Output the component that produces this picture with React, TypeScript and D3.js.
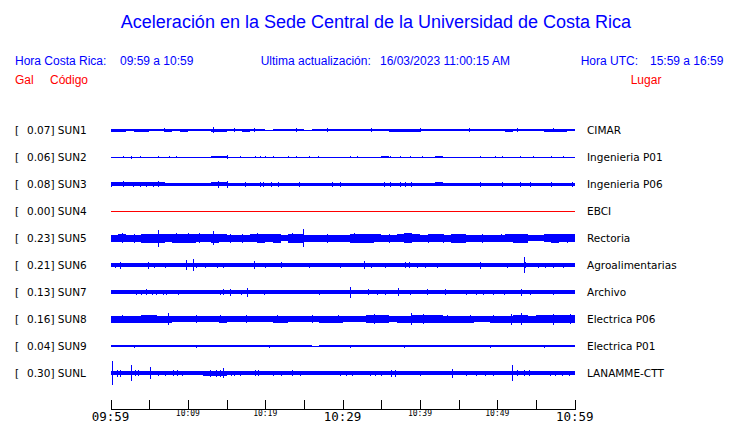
import React from 'react';
import * as d3 from 'd3';

const W = 740;
const H = 423;

// station metadata
const codes = ["SUN1", "SUN2", "SUN3", "SUN4", "SUN5", "SUN6", "SUN7", "SUN8", "SUN9", "SUNL"];
const peaks = ["0.07", "0.06", "0.08", "0.00", "0.23", "0.21", "0.13", "0.16", "0.04", "0.30"];
const places = ["CIMAR", "Ingenieria P01", "Ingenieria P06", "EBCI", "Rectoria", "Agroalimentarias", "Archivo", "Electrica P06", "Electrica P01", "LANAMME-CTT"];

// per-minute envelope (relative half-amplitude counts), 60 minutes from 09:59
const envSUN1 = [1.5,1.5,1.0,1.5,1.5,0.8,1.0,1.5,1.2,1.5,1.3,1.3,1.0,1.5,1.5,1.0,1.2,1.5,1.2,1.0,0.5,1.2,1.0,1.2,0.8,0.5,1.0,1.2,1.2,1.0,1.2,1.0,0.6,1.3,0.8,0.8,1.5,1.5,1.5,1.5,0.8,0.6,1.0,0.6,1.3,1.3,1.0,1.0,1.0,0.6,0.6,1.5,1.3,1.0,1.2,1.2,1.5,1.5,1.5,1.0];
const envSUN2 = [0.5,0.5,0.5,0.5,0.5,0.5,0.5,0.5,0.5,0.5,0.5,0.5,0.5,1.3,1.2,0.5,0.5,0.5,0.5,0.5,0.5,0.5,0.5,0.5,0.5,0.5,0.5,0.5,0.5,0.5,0.5,0.5,0.5,0.5,0.5,1.3,0.5,0.5,0.5,0.5,0.5,0.5,1.0,0.5,0.5,0.5,0.5,0.5,0.5,0.5,0.5,0.5,0.5,0.5,0.5,0.5,0.5,0.5,0.5,0.5];
const envSUN3 = [1.8,1.8,1.8,1.8,1.8,1.8,1.8,1.5,1.5,1.5,1.5,1.5,1.5,2.3,2.0,1.5,1.5,1.5,1.5,1.5,1.5,1.5,1.5,1.5,1.5,1.5,1.5,1.5,1.5,1.5,1.5,1.5,1.5,1.5,1.5,1.5,1.5,1.5,1.5,1.5,1.5,1.5,2.2,1.5,1.5,1.5,1.5,1.5,1.5,1.5,1.5,1.5,1.5,1.5,1.5,1.5,1.5,1.5,1.5,1.5];
const envSUN4 = [0,0,0,0,0,0,0,0,0,0,0,0,0,0,0,0,0,0,0,0,0,0,0,0,0,0,0,0,0,0,0,0,0,0,0,0,0,0,0,0,0,0,0,0,0,0,0,0,0,0,0,0,0,0,0,0,0,0,0,0];
const envSUN5 = [3.5,4.0,3.5,3.5,4.5,4.5,4.5,4.0,4.5,4.5,4.5,4.0,4.0,4.5,4.0,3.5,3.5,3.5,4.0,4.5,4.0,4.5,3.0,4.5,4.5,3.5,3.5,3.5,3.5,3.5,3.5,4.5,4.5,4.5,4.0,3.5,3.5,4.0,5.0,4.0,3.5,4.0,4.0,3.5,4.5,4.5,3.5,3.5,3.5,3.5,3.5,4.0,4.5,4.5,3.2,3.2,4.0,4.5,4.0,4.0];
const envSUN6 = [2.0,2.0,1.6,1.6,1.6,1.6,1.6,1.6,1.6,2.0,2.0,1.6,1.6,1.6,1.6,1.6,1.6,1.6,1.6,1.6,1.6,1.6,1.6,1.6,1.6,1.6,1.6,1.6,1.6,1.6,1.6,1.6,2.2,1.6,1.6,1.6,1.6,1.6,2.0,1.6,1.6,1.6,1.6,1.6,1.6,1.6,1.6,1.6,1.6,1.6,1.6,1.6,1.6,1.6,1.6,1.6,1.6,1.6,1.6,1.6];
const envSUN7 = [1.6,1.6,1.6,1.9,1.9,1.9,1.6,1.6,1.6,1.6,1.6,1.6,1.6,1.6,1.6,1.6,1.6,2.2,1.6,1.6,1.6,1.6,1.6,1.6,1.6,1.6,1.6,1.6,1.6,1.6,1.6,2.0,1.6,1.6,1.6,1.6,1.6,1.6,1.6,1.6,1.6,1.6,1.6,1.6,1.6,1.6,1.6,1.6,1.6,1.6,1.6,1.6,1.6,2.3,1.6,1.6,1.6,1.6,1.6,1.6];
const envSUN8 = [3.5,3.5,3.5,3.5,3.8,3.8,3.5,3.5,3.0,3.0,3.0,3.3,3.3,3.3,3.5,3.0,3.0,3.0,3.0,3.0,3.0,3.5,3.5,3.0,3.0,3.0,3.0,3.5,3.5,3.5,3.0,3.2,3.2,3.8,3.8,3.6,3.2,3.5,3.5,4.2,4.2,4.2,4.0,3.5,3.5,3.5,3.5,3.0,3.0,3.5,3.5,3.5,4.2,4.2,3.5,3.8,4.3,4.3,4.3,4.3];
const envSUN9 = [1.1,0.8,1.1,1.1,1.1,0.7,0.8,1.1,0.8,0.7,1.1,1.0,0.9,1.0,0.9,0.8,0.9,1.0,0.9,0.9,1.1,0.9,1.0,0.9,0.6,0.6,0.5,0.6,1.1,1.1,1.1,1.1,0.8,0.9,1.1,1.1,1.1,1.1,1.1,1.1,1.1,1.1,1.1,0.8,0.7,1.1,1.1,1.1,1.1,1.1,1.1,1.1,1.1,1.1,1.1,1.1,1.1,1.1,1.1,1.1];
const envSUNL = [2.3,2.3,2.3,1.8,1.8,2.0,2.0,2.0,2.0,2.0,1.6,1.6,2.5,2.5,2.5,1.8,1.8,1.8,1.8,1.8,1.8,1.8,1.8,1.8,1.6,1.6,1.6,1.6,1.6,1.6,1.6,1.6,1.6,2.0,2.0,2.0,1.6,1.6,1.6,1.6,1.6,1.6,1.6,1.6,1.6,1.6,1.6,1.6,1.6,1.6,1.6,2.2,2.2,1.6,1.6,1.9,1.9,1.9,1.9,1.6];

// spikes: [minute, half-amplitude]
const spkSUN1: [number, number][] = [[6.9,1.8],[13.3,3.3],[16.0,2.0],[18.5,1.8],[24.0,1.8],[28.0,1.6],[33.7,2.0],[40.0,2.0],[46.4,2.0],[52.5,2.0],[57.2,2.0]];
const spkSUN2: [number, number][] = [[1.6,1.2],[2.6,1.5],[3.8,1.2],[6.2,1.2],[7.5,1.2],[8.5,1.2],[15.0,2.0],[16.7,1.2],[18.7,1.3],[19.3,1.2],[20.0,1.2],[21.0,1.2],[23.0,1.2],[24.0,1.2],[25.6,1.2],[26.8,1.2],[30.9,1.2],[31.8,1.2],[36.1,1.3],[37.4,1.2],[38.7,1.2],[40.2,1.2],[47.8,1.3],[49.7,1.2],[50.6,1.3],[52.9,1.2],[54.6,1.2],[57.0,1.2],[58.5,1.2]];
const spkSUN3: [number, number][] = [[0.1,2.5],[1.6,3.0],[2.9,2.5],[3.8,2.5],[4.65,2.5],[5.5,2.5],[6.2,3.0],[13.9,3.5],[15.1,3.5],[17.4,2.5],[19.3,2.5],[19.7,2.5],[20.8,2.5],[21.7,2.5],[24.3,2.5],[28.6,2.5],[29.6,2.5],[35.3,2.5],[36.1,2.5],[37.4,2.5],[38.1,2.5],[38.9,2.5],[47.8,2.5],[50.6,2.5],[52.9,2.5],[54.2,2.5],[57.0,2.5],[59.6,2.5]];
const spkSUN4: [number, number][] = [];
const spkSUN5: [number, number][] = [[1.5,5.0],[3.0,4.5],[6.2,8.5],[8.5,5.0],[10.0,4.8],[11.5,5.0],[13.3,6.7],[15.5,4.5],[17.0,4.5],[19.0,5.0],[21.0,4.5],[23.5,5.0],[24.9,9.0],[28.0,4.5],[31.5,4.8],[33.5,4.5],[36.0,4.5],[38.7,5.0],[41.0,4.5],[43.0,4.5],[45.2,4.5],[48.0,4.5],[50.5,4.2],[53.1,4.5],[56.4,4.0],[59.0,4.5]];
const spkSUN6: [number, number][] = [[0.56,2.5],[1.2,3.5],[4.9,3.5],[5.6,2.5],[7.0,2.5],[9.7,5.0],[10.6,6.2],[11.1,2.5],[12.2,2.5],[13.8,2.5],[14.6,2.5],[18.6,4.0],[20.0,2.5],[22.0,3.0],[25.6,2.5],[29.6,2.5],[32.8,4.0],[33.7,2.5],[35.5,2.5],[38.1,3.0],[38.6,3.0],[39.6,2.5],[40.6,2.5],[42.2,2.5],[47.8,3.5],[51.2,2.5],[53.4,8.0],[53.6,3.0],[55.3,2.5],[56.2,2.5],[57.2,2.5],[58.5,2.5]];
const spkSUN7: [number, number][] = [[3.36,2.5],[4.0,2.5],[4.65,3.0],[5.3,2.5],[5.9,2.5],[6.8,2.5],[7.2,2.5],[8.7,2.5],[14.1,2.5],[14.6,3.0],[15.4,3.5],[16.9,2.5],[17.7,4.5],[19.9,2.5],[24.3,2.0],[26.9,2.5],[31.0,5.5],[33.3,3.0],[34.4,2.5],[35.5,2.5],[37.2,4.0],[38.7,2.5],[40.9,3.0],[43.2,3.0],[46.0,2.5],[47.3,2.5],[48.2,2.5],[49.5,2.5],[50.8,2.5],[53.1,3.5],[54.2,2.5],[57.2,2.5]];
const spkSUN8: [number, number][] = [[1.5,4.2],[5.1,3.8],[7.45,6.3],[11.0,4.0],[14.1,4.2],[17.5,3.8],[21.5,4.2],[26.0,3.8],[29.4,4.2],[34.1,5.0],[38.9,6.0],[40.4,4.8],[43.5,4.2],[46.5,4.2],[49.5,4.2],[51.8,5.5],[53.1,6.0],[57.2,5.5],[59.4,5.0]];
const spkSUN9: [number, number][] = [[3.0,1.5],[11.0,1.5],[20.5,1.5],[31.0,1.5],[38.0,1.5],[49.0,1.5],[56.0,1.5]];
const spkSUNL: [number, number][] = [[0.2,12],[0.8,3.5],[1.2,3.5],[2.6,8],[3.2,3],[3.6,3],[5.1,6],[6.2,2.5],[7.0,2.5],[8.1,3],[8.6,3],[9.2,2.5],[12.9,3.5],[13.6,3.5],[14.2,3.5],[14.6,5],[15.6,2.5],[16.0,2.5],[16.7,2.5],[18.7,3],[19.1,3],[21.0,2.5],[22.1,2.5],[23.4,3],[24.5,2.5],[29.6,2.5],[30.5,2.5],[31.2,2.5],[33.5,2.5],[34.2,2.5],[35.0,2.5],[36.3,3.5],[36.8,3.5],[40.0,2.5],[44.1,4.5],[46.0,2.5],[47.3,2.5],[48.4,2.5],[49.5,2.5],[51.85,8],[52.5,3],[53.5,3],[54.1,3],[56.8,2.5],[57.5,2.5],[58.3,2.5],[59.2,2.5]];

const envelopes = [envSUN1, envSUN2, envSUN3, envSUN4, envSUN5, envSUN6, envSUN7, envSUN8, envSUN9, envSUNL];
const spikes = [spkSUN1, spkSUN2, spkSUN3, spkSUN4, spkSUN5, spkSUN6, spkSUN7, spkSUN8, spkSUN9, spkSUNL];

// time axis (minutes since 09:59)
const tickMinutes = [0, 5, 10, 15, 20, 25, 30, 35, 40, 45, 50, 55, 60];
const labelMinutes = [0, 10, 20, 30, 40, 50, 60];
const tickLabels = ["09:59", "10:09", "10:19", "10:29", "10:39", "10:49", "10:59"];
const majorLabels = ["09:59", "10:29", "10:59"];

const BLUE = "#0000ff";
const RED = "#ff0000";
const SANS = "'Liberation Sans', Arial, sans-serif";
const DEJAVU = "'DejaVu Sans', sans-serif";
const MONO = "'DejaVu Sans Mono', monospace";

export default function App() {
  const x = d3.scaleLinear().domain([0, 60]).range([110.5, 574.7]);
  const row = d3.scalePoint<string>().domain(codes).range([130, 373]);
  const amp = d3.scaleLinear().domain([0, 13.5]).range([0, 13.5]);

  return (
    <svg width={W} height={H} style={{ position: 'absolute', left: 0, top: 0, background: '#fff' }}>
      <text x={376} y={28} textAnchor="middle" fontFamily={SANS} fontSize={18} fill={BLUE}>
        Aceleración en la Sede Central de la Universidad de Costa Rica
      </text>

      <g fontFamily={SANS} fontSize={12}>
        <text x={15} y={65} fill={BLUE}>Hora Costa Rica:</text>
        <text x={120} y={65} fill={BLUE}>09:59 a 10:59</text>
        <text x={260.7} y={65} fill={BLUE}>Ultima actualización:</text>
        <text x={380} y={65} fill={BLUE}>16/03/2023 11:00:15 AM</text>
        <text x={580.7} y={65} fill={BLUE}>Hora UTC:</text>
        <text x={650} y={65} fill={BLUE}>15:59 a 16:59</text>
        <text x={15} y={84} fill={RED}>Gal</text>
        <text x={50} y={84} fill={RED}>Código</text>
        <text x={630.7} y={84} fill={RED}>Lugar</text>
      </g>

      {codes.map((code, i) => {
        const yc = row(code) as number;
        const env = envelopes[i];
        const dead = env.every(v => v === 0);
        const pts = env.map((a, t) => ({ t, a })).concat([{ t: 60, a: env[env.length - 1] }]);
        const area = d3.area<{ t: number; a: number }>()
          .x(d => x(d.t))
          .y0(d => yc + amp(d.a))
          .y1(d => yc - amp(d.a))
          .curve(d3.curveStepAfter);
        return (
          <g key={code}>
            <text x={15} y={yc + 4} fontFamily={DEJAVU} fontSize={10.5} fill="#000">[</text>
            <text x={27} y={yc + 4} fontFamily={DEJAVU} fontSize={10.5} fill="#000">{`${peaks[i]}] ${code}`}</text>
            <text x={587} y={yc + 4} fontFamily={DEJAVU} fontSize={10.5} fill="#000">{places[i]}</text>
            {dead ? (
              <line x1={x(0)} x2={x(60)} y1={yc + 0.5} y2={yc + 0.5} stroke={RED} strokeWidth={1} shapeRendering="crispEdges" />
            ) : (
              <g shapeRendering="crispEdges">
                <path d={area(pts) || ''} fill={BLUE} />
                {spikes[i].map(([t, a], k) => (
                  <line key={k} x1={Math.round(x(t)) + 0.5} x2={Math.round(x(t)) + 0.5} y1={yc - amp(a)} y2={yc + amp(a)} stroke={BLUE} strokeWidth={1} />
                ))}
              </g>
            )}
          </g>
        );
      })}

      <g shapeRendering="crispEdges">
        <line x1={x(0)} x2={x(60)} y1={409.5} y2={409.5} stroke="#000" strokeWidth={1} />
        {tickMinutes.map(t => (
          <line key={t} x1={Math.round(x(t)) + 0.5} x2={Math.round(x(t)) + 0.5} y1={400} y2={409.5} stroke="#000" strokeWidth={1} />
        ))}
      </g>
      {labelMinutes.map((t, i) => {
        const lbl = tickLabels[i];
        const big = majorLabels.includes(lbl);
        return (
          <text key={lbl} x={x(t)} y={big ? 421 : 416} textAnchor="middle" fontFamily={MONO} fontSize={big ? 12.5 : 8} fill="#000">
            {lbl}
          </text>
        );
      })}
    </svg>
  );
}
